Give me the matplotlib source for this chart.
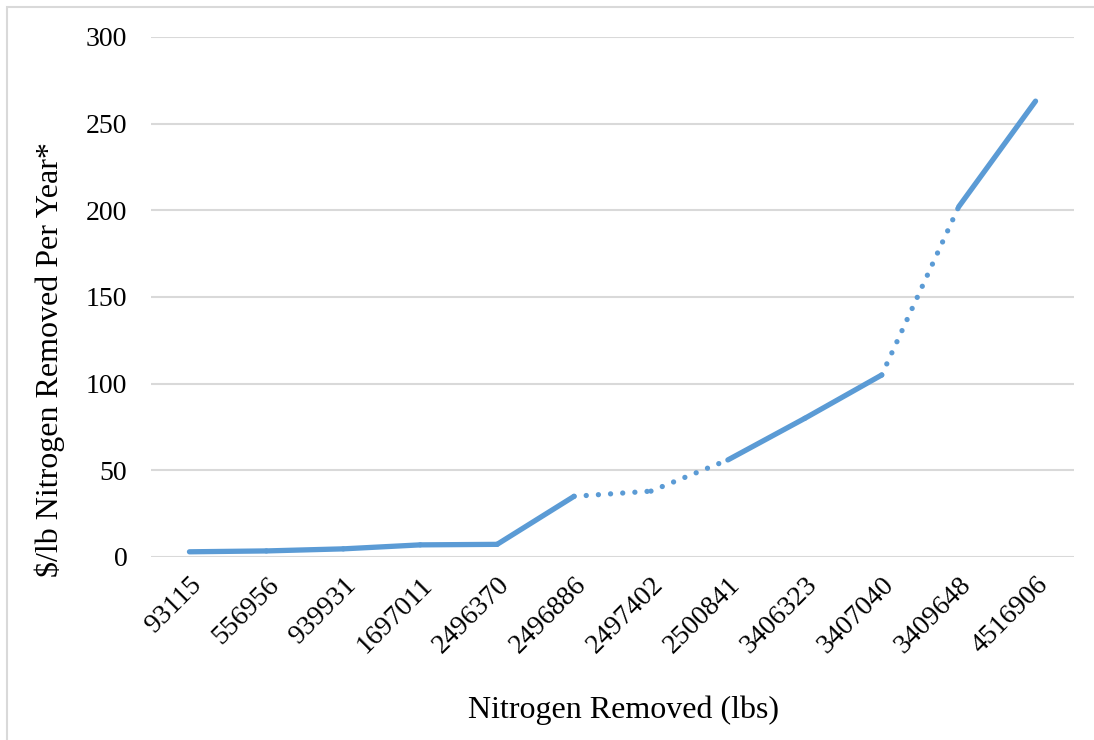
import matplotlib.pyplot as plt
from matplotlib.patches import Rectangle

# Data
categories = ["93115", "556956", "939931", "1697011", "2496370", "2496886",
              "2497402", "2500841", "3406323", "3407040", "3409648", "4516906"]
cost_per_lb = [3, 3.5, 4.7, 7, 7.3, 35, 38, 56, 80, 105, 202, 263]
# segments (start index) drawn dotted
dotted_segments = [5, 6, 9]

plt.rcParams['font.family'] = ['Liberation Serif', 'DejaVu Serif']

blue = "#5B9BD5"
grid_gray = "#D9D9D9"

fig = plt.figure(figsize=(10.94, 7.4), dpi=100)
ax = fig.add_axes([151/1094, 1 - 557/740, 923/1094, 520/740])

x = list(range(len(categories)))
for i in range(len(categories) - 1):
    if i in dotted_segments:
        ax.plot(x[i:i+2], cost_per_lb[i:i+2], color=blue, lw=3.8,
                linestyle=(0, (0.01, 2.3)), dash_capstyle='round',
                solid_capstyle='round')
    else:
        ax.plot(x[i:i+2], cost_per_lb[i:i+2], color=blue, lw=3.8,
                solid_capstyle='round')

ax.set_xlim(-0.5, len(categories) - 0.5)
ax.set_ylim(0, 300)
ax.set_yticks(range(0, 301, 50))
ax.yaxis.grid(True, color=grid_gray, lw=1.5)
ax.set_axisbelow(True)
for s in ax.spines.values():
    s.set_visible(False)
ax.tick_params(axis='y', length=0, pad=17, labelsize=20)
ax.tick_params(axis='x', length=0, pad=11, labelsize=20)
ax.set_xticks(x)
ax.set_xticklabels(categories, rotation=45, ha='right', va='top',
                   rotation_mode='anchor')

fig.text(624/1094, 1 - 710/740, "Nitrogen Removed (lbs)", fontsize=23,
         ha='center', va='center')
fig.text(50/1094, 1 - 360/740, "$/lb Nitrogen Removed Per Year*", fontsize=23,
         ha='center', va='center', rotation=90)

# light frame of the chart area
fig.patches.append(Rectangle((7/1094, -0.1), 1.2, 1 - 7/740 + 0.1,
                             transform=fig.transFigure, fill=False,
                             edgecolor=grid_gray, lw=1.5))

fig.savefig("out.png", dpi=100)
